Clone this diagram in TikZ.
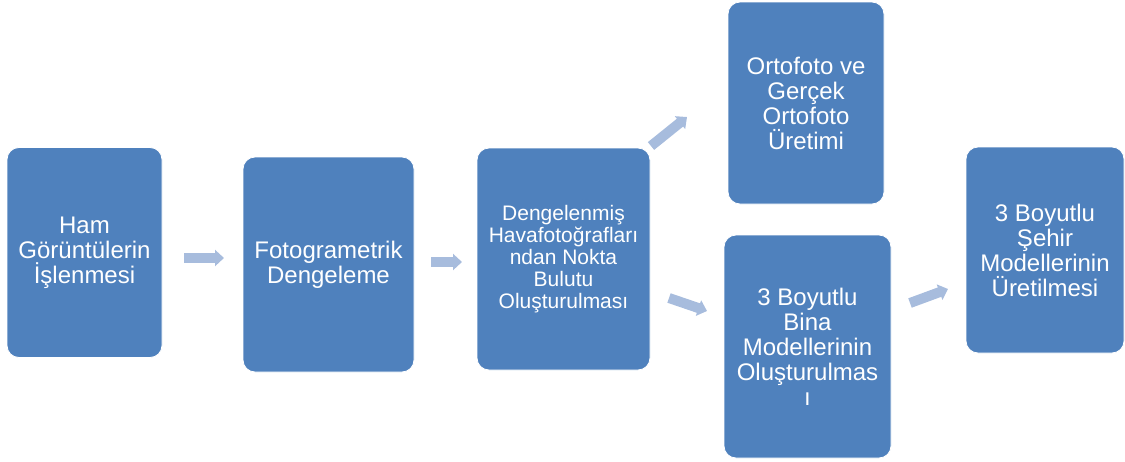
\documentclass[tikz,border=0pt]{standalone}
\usepackage{fontspec}
\setmainfont{Liberation Sans}
\usetikzlibrary{arrows.meta}
\definecolor{boxblue}{HTML}{4F81BD}
\definecolor{arrowblue}{HTML}{A7BCDD}
\newcommand\boxfontA{\fontsize{24}{25}\selectfont}
\newcommand\boxfontB{\fontsize{21}{22}\selectfont}
\tikzset{
  stagebox/.style={rectangle, rounded corners=12pt, fill=boxblue, draw=white, line width=0.8pt,
    text=white, align=center, font=\boxfontA, inner sep=0pt},
  blockarrow/.style={draw=arrowblue, line width=10pt,
    -{Triangle[length=9pt,width=16pt]}}
}
\begin{document}
\begin{tikzpicture}[x=1pt,y=-1pt]
\useasboundingbox (0,0) rectangle (1125,461);
\node[stagebox, minimum width=155pt, minimum height=210pt] (b1) at (84.5,252.5)
  {Ham\\Görüntülerin\\İşlenmesi};
\node[stagebox, minimum width=171pt, minimum height=215pt] (b2) at (328.5,264.5)
  {Fotogrametrik\\Dengeleme};
\node[stagebox, minimum width=173pt, minimum height=222pt, font=\boxfontB] (b3) at (563.5,259)
  {Dengelenmiş\\Havafotoğrafları\\ndan Nokta\\Bulutu\\Oluşturulması};
\node[stagebox, minimum width=156pt, minimum height=202pt] (b4) at (806,103)
  {Ortofoto ve\\Gerçek\\Ortofoto\\Üretimi};
\node[stagebox, minimum width=167pt, minimum height=223pt] (b5) at (807.5,346.5)
  {3 Boyutlu\\Bina\\Modellerinin\\Oluşturulmas\\ı};
\node[stagebox, minimum width=158pt, minimum height=206pt] (b6) at (1045,250)
  {3 Boyutlu\\Şehir\\Modellerinin\\Üretilmesi};
\coordinate (a1s) at (184,258);
\coordinate (a1e) at (224,258);
\coordinate (a2s) at (431,262);
\coordinate (a2e) at (462,262);
\coordinate (a3s) at (651,146);
\coordinate (a3e) at (687,117);
\coordinate (a4s) at (669,298);
\coordinate (a4e) at (707,311);
\coordinate (a5s) at (910,303);
\coordinate (a5e) at (948,289);
\draw[blockarrow] (a1s) -- (a1e);
\draw[blockarrow] (a2s) -- (a2e);
\draw[blockarrow] (a3s) -- (a3e);
\draw[blockarrow] (a4s) -- (a4e);
\draw[blockarrow] (a5s) -- (a5e);
\end{tikzpicture}
\end{document}
